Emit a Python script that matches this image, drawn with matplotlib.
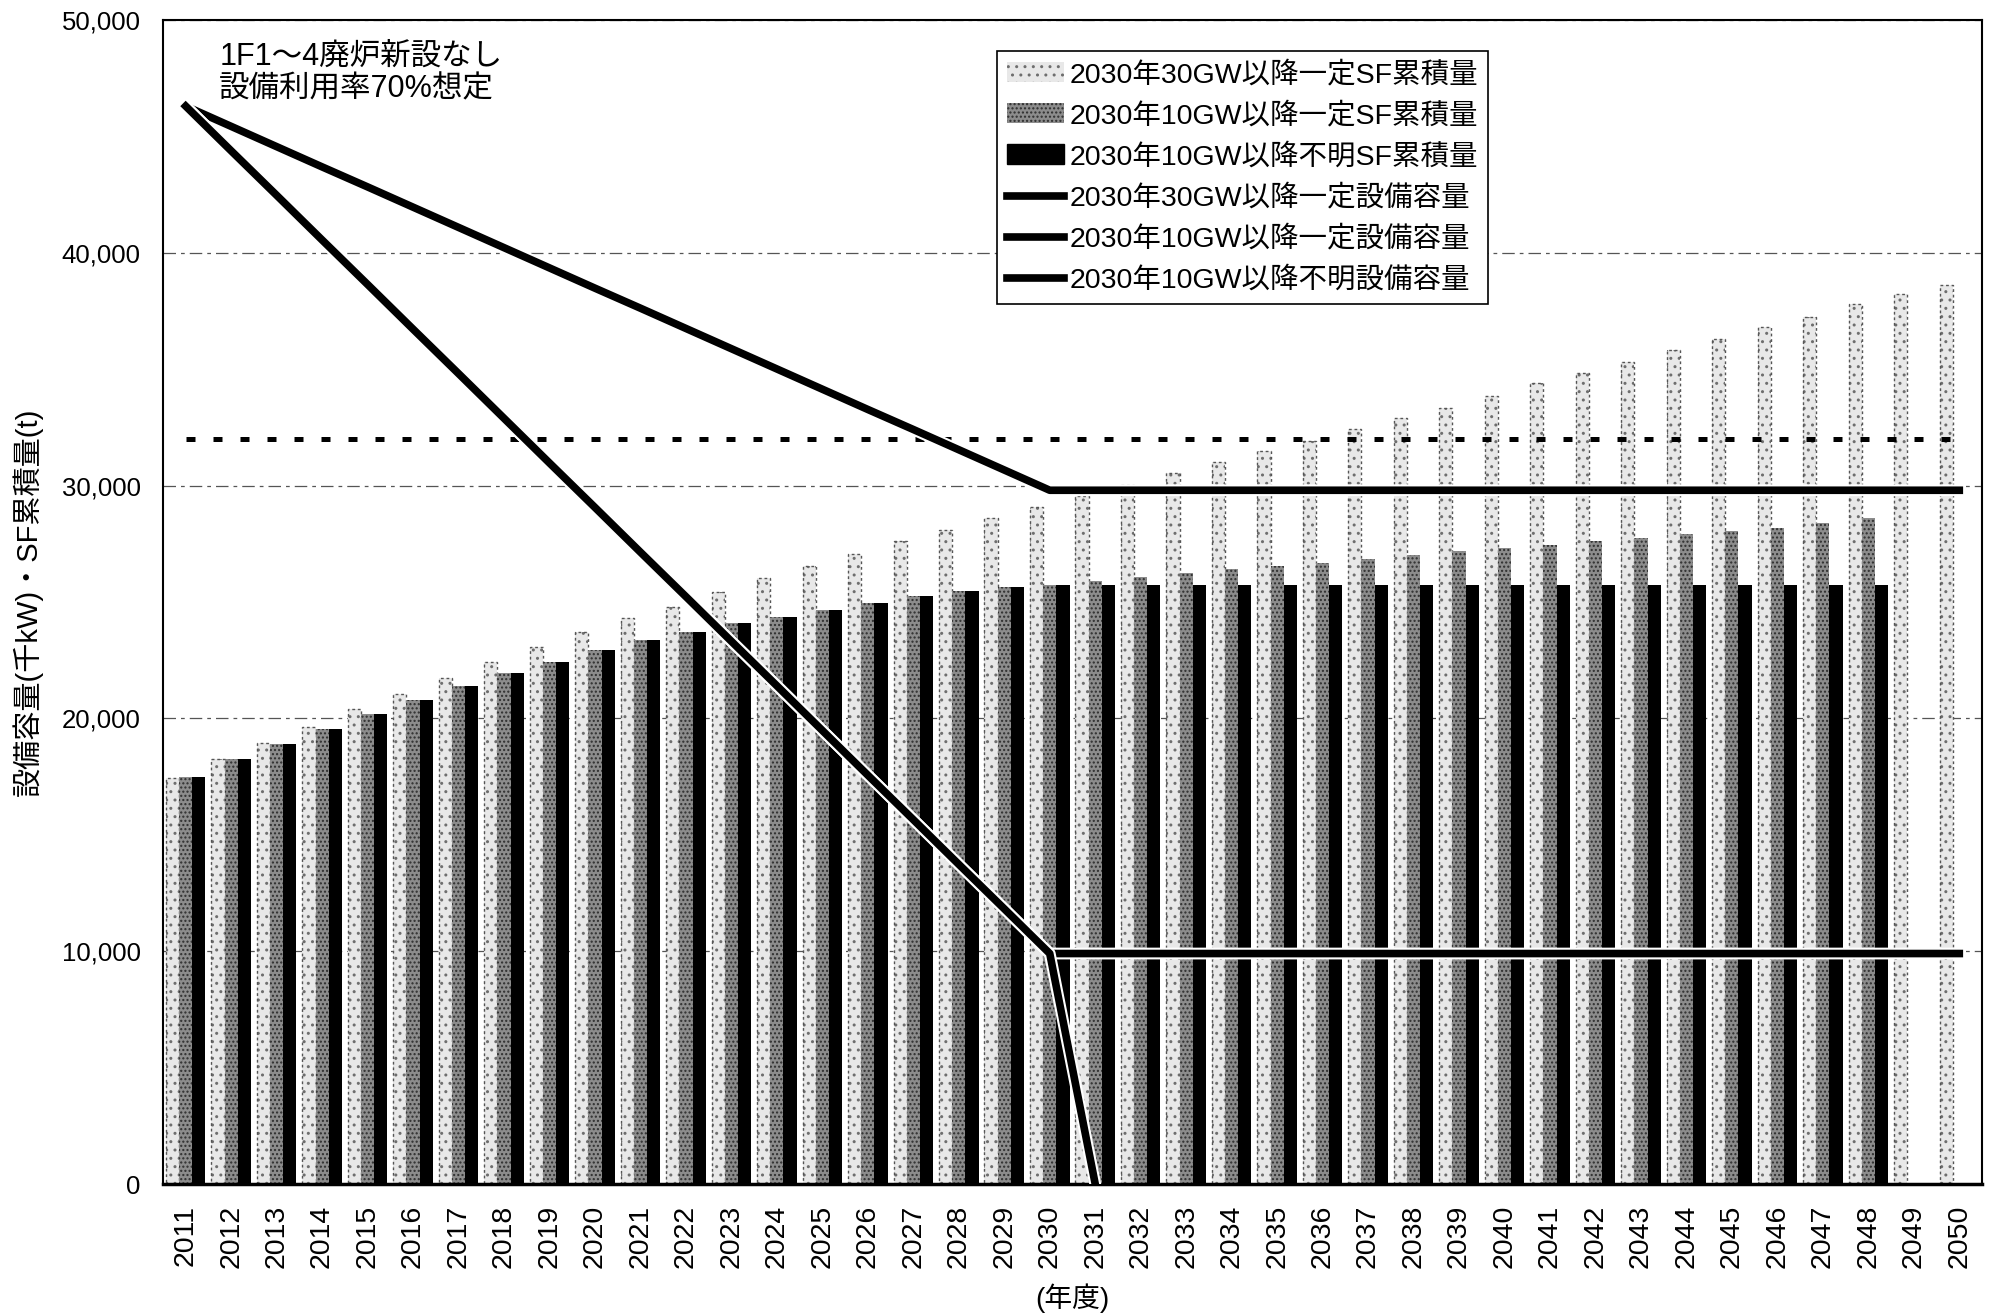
import numpy as np
import matplotlib.pyplot as plt
import matplotlib.patheffects as pe
from matplotlib.patches import Patch
from matplotlib.lines import Line2D

plt.rcParams['font.family'] = ['Liberation Sans', 'Noto Sans CJK JP']
plt.rcParams['hatch.linewidth'] = 1.0

years = list(range(2011, 2051))

# SF cumulative amount (t), 30GW case runs to 2050, the 10GW cases to 2048
sf_30gw = [17440, 18250, 18940, 19650, 20420, 21060, 21750, 22440, 23060, 23730,
           24330, 24800, 25410, 26010, 26560, 27050, 27600, 28090, 28590, 29080,
           29570, 30010, 30530, 31010, 31470, 31920, 32420, 32910, 33350, 33840,
           34390, 34830, 35320, 35820, 36310, 36800, 37240, 37790, 38230, 38610]
sf_10gw_const = [17500, 18250, 18900, 19560, 20210, 20790, 21380, 21940, 22440, 22920,
                 23350, 23710, 24100, 24370, 24640, 24970, 25250, 25470, 25630, 25750,
                 25900, 26070, 26240, 26410, 26530, 26670, 26860, 27000, 27170, 27330,
                 27470, 27600, 27750, 27900, 28040, 28200, 28390, 28590]
sf_10gw_unknown = [17500, 18250, 18900, 19560, 20210, 20790, 21380, 21940, 22440, 22920,
                   23350, 23710, 24100, 24370, 24640, 24970, 25250, 25470, 25630, 25750,
                   25750, 25750, 25750, 25750, 25750, 25750, 25750, 25750, 25750, 25750,
                   25750, 25750, 25750, 25750, 25750, 25750, 25750, 25750]

# installed capacity (thousand kW)
cap_30gw = [46300, 45430, 44560, 43690, 42830, 41960, 41090, 40220, 39350, 38480,
            37620, 36750, 35880, 35010, 34140, 33270, 32410, 31540, 30670, 29800,
            29800, 29800, 29800, 29800, 29800, 29800, 29800, 29800, 29800, 29800,
            29800, 29800, 29800, 29800, 29800, 29800, 29800, 29800, 29800, 29800]
cap_10gw_const = [46300, 44380, 42470, 40550, 38640, 36720, 34810, 32890, 30970, 29060,
                  27140, 25230, 23310, 21400, 19480, 17560, 15650, 13730, 11820, 9900,
                  9900, 9900, 9900, 9900, 9900, 9900, 9900, 9900, 9900, 9900,
                  9900, 9900, 9900, 9900, 9900, 9900, 9900, 9900, 9900, 9900]
cap_10gw_unknown = [46300, 44380, 42470, 40550, 38640, 36720, 34810, 32890, 30970, 29060,
                    27140, 25230, 23310, 21400, 19480, 17560, 15650, 13730, 11820, 9900,
                    0]

sf_limit = 32000

series_labels = ['2030年30GW以降一定SF累積量', '2030年10GW以降一定SF累積量',
                 '2030年10GW以降不明SF累積量', '2030年30GW以降一定設備容量',
                 '2030年10GW以降一定設備容量', '2030年10GW以降不明設備容量']

light_face, light_dots = '#e8e8e8', '#6e6e6e'
gray_face, gray_dots = '#8c8c8c', '#2e2e2e'

fig = plt.figure(figsize=(19.97, 13.16), dpi=100)
ax = fig.add_axes([0.0816, 0.1003, 0.9109, 0.8845])

x = np.arange(len(years))
w = 0.29


def stipple_bar(xs, vals, face, dots, hatch):
    ax.bar(xs, vals, w, color=face, linewidth=0, zorder=2)
    ax.bar(xs, vals, w, facecolor='none', edgecolor=dots, hatch=hatch,
           linewidth=0, zorder=2)


stipple_bar(x - w, sf_30gw, light_face, light_dots, '..')
ax.bar(x - w, sf_30gw, w, facecolor='none', edgecolor='#555555',
       linewidth=1.0, linestyle=(0, (2, 2)), zorder=2)
n = len(sf_10gw_const)
stipple_bar(x[:n], sf_10gw_const, gray_face, gray_dots, '....')
ax.bar(x[:n] + w, sf_10gw_unknown, w, color='black', linewidth=0, zorder=2)

# storage limit
ax.plot(x, [sf_limit] * len(x), color='black', lw=3.6,
        linestyle=(0, (1.8, 3.6)), dash_capstyle='butt', zorder=3)

halo = [pe.Stroke(linewidth=8.5, foreground='white'), pe.Normal()]
ax.plot(x, cap_30gw, color='black', lw=5.5, path_effects=halo, zorder=4)
ax.plot(x, cap_10gw_const, color='black', lw=5.5, path_effects=halo, zorder=4)
ax.plot(x[:len(cap_10gw_unknown)], cap_10gw_unknown, color='black', lw=5.5,
        path_effects=halo, zorder=4)

ax.set_xlim(-0.5, len(years) - 0.5)
ax.set_ylim(0, 50000)
ax.set_yticks(range(0, 50001, 10000))
ax.set_yticklabels([f'{v:,}' for v in range(0, 50001, 10000)])
ax.set_xticks(x)
ax.set_xticklabels([str(y) for y in years], rotation=90)
ax.tick_params(axis='x', length=0, pad=15, labelsize=20.5)
ax.tick_params(axis='y', length=0, pad=16, labelsize=18.5)

ax.set_axisbelow(True)
ax.yaxis.grid(True, color='#555555', lw=0.9, linestyle=(0, (10, 4, 3, 4)))
for s in ax.spines.values():
    s.set_linewidth(1.5)
ax.spines['bottom'].set_linewidth(2.5)

ax.set_ylabel('設備容量(千kW)・SF累積量(t)', fontsize=21)
ax.yaxis.set_label_coords(-0.066, 0.5)
ax.set_xlabel('(年度)', fontsize=20)
ax.xaxis.set_label_coords(0.5, -0.085)

ax.text(0.031, 0.981, '1F1～4廃炉新設なし\n設備利用率70%想定', transform=ax.transAxes,
        ha='left', va='top', fontsize=22, linespacing=1.12)

handles = [
    Patch(facecolor=light_face, edgecolor=light_dots, hatch='..', linewidth=0),
    Patch(facecolor=gray_face, edgecolor=gray_dots, hatch='....', linewidth=0),
    Patch(facecolor='black', edgecolor='black'),
    Line2D([], [], color='black', lw=5.5),
    Line2D([], [], color='black', lw=5.5),
    Line2D([], [], color='black', lw=5.5),
]
leg = ax.legend(handles, series_labels, loc='upper left', bbox_to_anchor=(0.4585, 0.973),
                fontsize=20.5, frameon=True, fancybox=False, edgecolor='black',
                framealpha=1, borderpad=0.35, labelspacing=0.5, handlelength=2.0,
                handletextpad=0.2, borderaxespad=0)
leg.get_frame().set_linewidth(1.2)
leg.set_zorder(6)

fig.savefig('out.png', dpi=100)
